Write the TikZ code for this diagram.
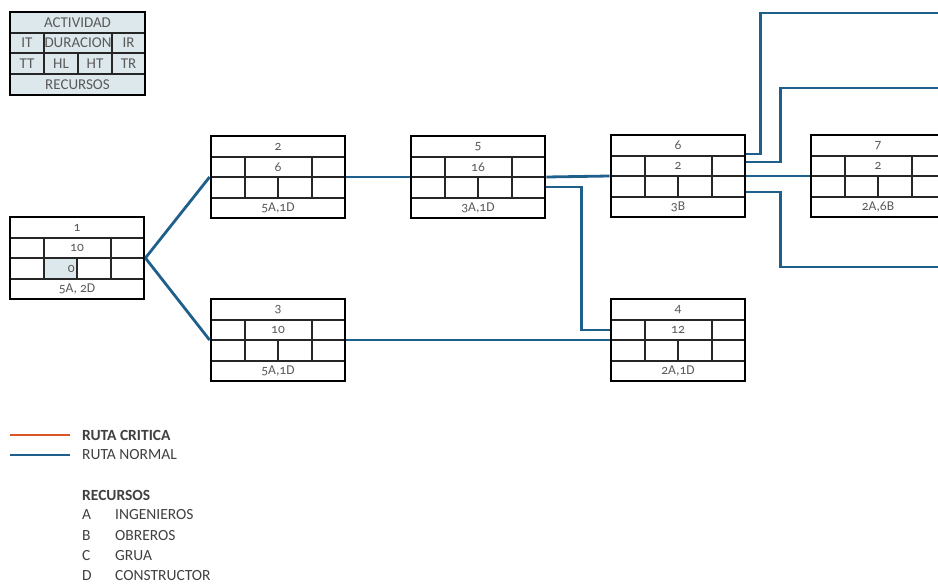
\documentclass[tikz,border=0pt]{standalone}
\usepackage{fontspec}
\setmainfont{Carlito}[Numbers=OldStyle]
\usetikzlibrary{calc}

\definecolor{azulruta}{RGB}{31,95,140}
\definecolor{rojoruta}{RGB}{218,85,35}
\definecolor{celeste}{RGB}{221,232,236}
\definecolor{textogris}{RGB}{90,90,90}

\tikzset{
  caja/.style={draw, line width=2.8pt, minimum width=134pt, minimum height=82pt, inner sep=0pt},
  rejilla/.style={line width=1.2pt, draw=black!85},
  ruta/.style={draw=azulruta, line width=2.8pt},
  dato/.style={text=textogris, font=\fontsize{13.5}{15}\selectfont, inner sep=0pt},
  clavetxt/.style={text=textogris, font=\fontsize{15}{16}\selectfont, inner sep=0pt},
  leyenda/.style={text=black!75, font=\fontsize{15.5}{17}\selectfont, anchor=west, inner sep=0pt},
}

\begin{document}
\begin{tikzpicture}[x=1pt, y=-1pt]
\useasboundingbox (0,0) rectangle (938,585);
\clip (0,0) rectangle (938,585);
\newcommand{\actividad}[6]{% nombre, x, y, numero, duracion, recursos
  \begin{scope}[shift={(#2,#3)}]
    \draw[rejilla] (0,21) -- (134,21) (0,41) -- (134,41) (0,62) -- (134,62);
    \draw[rejilla] (34,21) -- (34,62) (101,21) -- (101,62) (67,41) -- (67,62);
    \node[caja] (#1) at (67,41) {};
    \node[dato] (#1-num) at (67,10.5) {#4};
    \node[dato] (#1-dur) at (67,31) {#5};
    \node[dato] (#1-rec) at (67,72) {#6};
  \end{scope}}

% clave de la actividad
\begin{scope}[shift={(10,12)}]
  \fill[celeste] (0,0) rectangle (135,83);
  \draw[rejilla] (0,21) -- (135,21) (0,41) -- (135,41) (0,62) -- (135,62);
  \draw[rejilla] (34,21) -- (34,62) (102,21) -- (102,62) (68,41) -- (68,62);
  \node[caja, minimum width=135pt, minimum height=83pt] (clave) at (67.5,41.5) {};
  \node[clavetxt] (k-act) at (67.5,10.5) {ACTIVIDAD};
  \node[clavetxt] (k-it)  at (17,31) {IT};
  \node[clavetxt] (k-dur) at (68,31) {DURACION};
  \node[clavetxt] (k-ir)  at (118.5,31) {IR};
  \node[clavetxt] (k-tt)  at (17,51.5) {TT};
  \node[clavetxt] (k-hl)  at (51,51.5) {HL};
  \node[clavetxt] (k-ht)  at (85,51.5) {HT};
  \node[clavetxt] (k-tr)  at (118.5,51.5) {TR};
  \node[clavetxt] (k-rec) at (67.5,72.5) {RECURSOS};
\end{scope}

% actividades
\fill[celeste] (44,258) rectangle (77,279); % holgura de la 1
\actividad{a1}{10}{217}{1}{10}{5A, 2D}
\node[dato, anchor=east] (a1-hl) at (75,269) {0};
\actividad{a2}{211}{136}{2}{6}{5A,1D}
\actividad{a3}{211}{299}{3}{10}{5A,1D}
\actividad{a5}{411}{136}{5}{16}{3A,1D}
\actividad{a4}{611}{299}{4}{12}{2A,1D}
\actividad{a6}{611}{135}{6}{2}{3B}
\actividad{a7}{811}{135}{7}{2}{2A,6B}

% salidas fuera de la hoja
\coordinate (s1) at (940,13);
\coordinate (s2) at (940,88);
\coordinate (s3) at (940,267);

% rutas
\draw[ruta] (a1.east) -- (a2.west);
\draw[ruta] (a1.east) -- (a3.west);
\draw[ruta] (a2.east) -- (a5.west);
\draw[ruta] (a5.east) -- (a6.west);
\draw[ruta] ([yshift=-10pt]a5.east) -- ++(35,0) |- ([yshift=10pt]a4.west);
\draw[ruta] (a3.east) -- (a4.west);
\draw[ruta] (a6.east) -- (a7.west);
\draw[ruta] ([yshift=22pt]a6.east) -- ++(14,0) |- (s1);
\draw[ruta] ([yshift=14pt]a6.east) -- ++(34,0) |- (s2);
\draw[ruta] ([yshift=-16pt]a6.east) -- ++(34,0) |- (s3);

% leyenda
\draw[line width=2.8pt, rojoruta] (10,435) -- (70,435);
\draw[line width=2.8pt, azulruta] (10,455) -- (70,455);
\node[leyenda, font=\fontsize{15.5}{17}\selectfont\bfseries] (l-crit) at (82,435) {RUTA CRITICA};
\node[leyenda] (l-norm) at (82,455) {RUTA NORMAL};
\node[leyenda, font=\fontsize{15.5}{17}\selectfont\bfseries] (l-rec) at (82,495) {RECURSOS};
\node[leyenda] (l-a) at (82,515) {A};
\node[leyenda] (l-b) at (82,535.5) {B};
\node[leyenda] (l-c) at (82,556) {C};
\node[leyenda] (l-d) at (82,576) {D};
\node[leyenda] (l-ing) at (115,515) {INGENIEROS};
\node[leyenda] (l-obr) at (115,535.5) {OBREROS};
\node[leyenda] (l-gru) at (115,556) {GRUA};
\node[leyenda] (l-con) at (115,576) {CONSTRUCTOR};
\end{tikzpicture}
\end{document}
